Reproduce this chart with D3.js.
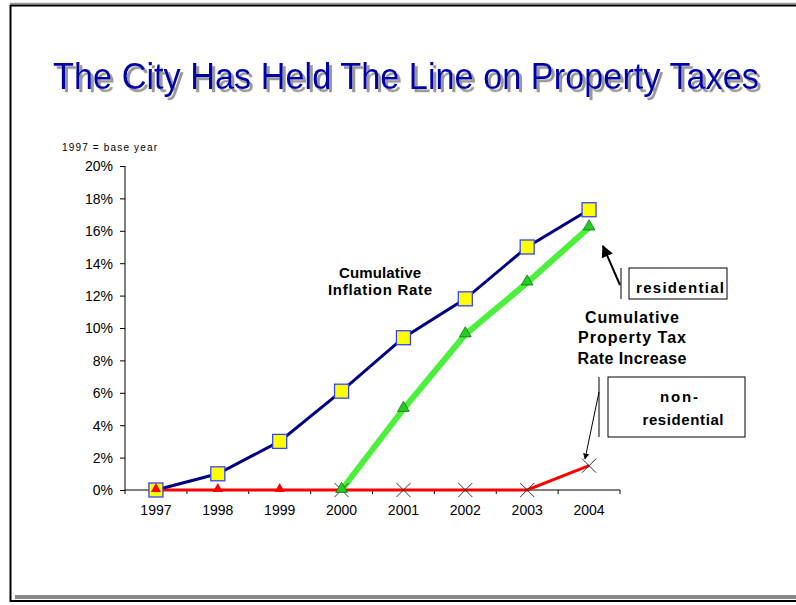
<!DOCTYPE html>
<html><head><meta charset="utf-8">
<script src="https://cdn.jsdelivr.net/npm/d3@7"></script>
<style>body{margin:0;background:#fff}svg{display:block}text{font-family:"Liberation Sans",Arial,sans-serif}</style>
</head><body>
<svg id="c" width="796" height="605"></svg>
<script>
const years = ["1997","1998","1999","2000","2001","2002","2003","2004"];
const inflation = [0, 1.0, 3.0, 6.1, 9.4, 11.8, 15.0, 17.3];
const residential = [null, null, null, 0, 5.0, 9.6, 12.8, 16.2];
const nonResidential = [0, 0, 0, 0, 0, 0, 0, 1.5];
const yTicks = [0, 2, 4, 6, 8, 10, 12, 14, 16, 18, 20];

const svg = d3.select("#c");
const defs = svg.append("defs");
const f = defs.append("filter").attr("id","sh").attr("filterUnits","userSpaceOnUse")
  .attr("x",-20).attr("y",-50).attr("width",760).attr("height",80);
f.append("feDropShadow").attr("dx",3).attr("dy",3).attr("stdDeviation",0.6).attr("flood-color","#999").attr("flood-opacity",1);

// frame
svg.append("line").attr("x1",10).attr("x2",796).attr("y1",3.5).attr("y2",3.5).attr("stroke","#999").attr("stroke-width",1.5);
svg.append("line").attr("x1",10).attr("x2",796).attr("y1",5.5).attr("y2",5.5).attr("stroke","#000").attr("stroke-width",2);
svg.append("line").attr("x1",10.5).attr("x2",10.5).attr("y1",5).attr("y2",602).attr("stroke","#000").attr("stroke-width",2);
svg.append("rect").attr("x",15).attr("y",595).attr("width",781).attr("height",4).attr("fill","#888");
svg.append("line").attr("x1",10).attr("x2",796).attr("y1",601).attr("y2",601).attr("stroke","#000").attr("stroke-width",2);

// title with shadow
const title = "The City Has Held The Line on Property Taxes";
svg.append("text").attr("x",0).attr("y",0).attr("font-size",35).attr("fill","#0000a8")
  .attr("transform","translate(53,89) scale(1,1.07)")
  .attr("filter","url(#sh)")
  .attr("textLength",706).attr("lengthAdjust","spacingAndGlyphs").text(title);

const x = d3.scaleBand().domain(years).range([125, 620]);
const y = d3.scaleLinear().domain([0, 20]).range([490, 166]);

// axes
const yAxis = d3.axisLeft(y).tickValues(yTicks).tickSize(5).tickFormat(d => d + "%");
const gy = svg.append("g").attr("transform","translate(125,0)").call(yAxis);
gy.selectAll("text").attr("font-size",14).attr("fill","#000").attr("x",-12).attr("dy","0.35em");
gy.select(".domain").attr("d","M0,166V490");
const xAxis = d3.axisBottom(x).tickSize(0).tickPadding(15);
const gx = svg.append("g").attr("transform","translate(0,490)").call(xAxis);
gx.selectAll("text").attr("font-size",14).attr("fill","#000");
gx.select(".domain").attr("d","M125,0H620");
gx.selectAll(".bt").data(years.concat(["end"])).enter().append("line")
  .attr("x1",(d,i)=>125+i*x.step()).attr("x2",(d,i)=>125+i*x.step())
  .attr("y1",0).attr("y2",4).attr("stroke","#000");
svg.selectAll(".domain,.tick line").attr("stroke","#000");

svg.append("text").attr("x",62).attr("y",151).attr("font-size",10).attr("fill","#000")
  .attr("textLength",95).attr("lengthAdjust","spacing").text("1997 = base year");

const cx = d => x(d) + x.bandwidth()/2;

const nrPts = years.map((d,i)=>[cx(d), y(nonResidential[i])]);
svg.append("path").attr("d", d3.line()(nrPts)).attr("fill","none").attr("stroke","#ff0000").attr("stroke-width",3);

const resPts = years.map((d,i)=>residential[i]==null?null:[cx(d), y(residential[i])]).filter(p=>p);
svg.append("path").attr("d", d3.line()(resPts)).attr("fill","none").attr("stroke","#4cf03c").attr("stroke-width",6);

const infPts = years.map((d,i)=>[cx(d), y(inflation[i])]);
svg.append("path").attr("d", d3.line()(infPts)).attr("fill","none").attr("stroke","#000080").attr("stroke-width",3);

const tri = d3.symbol().type(d3.symbolTriangle).size(45);
svg.selectAll(".sq").data(infPts).enter().append("rect")
  .attr("x",p=>p[0]-7).attr("y",p=>p[1]-7).attr("width",14).attr("height",14)
  .attr("fill","#ffff00").attr("stroke","#3344ff").attr("stroke-width",1.3);
svg.selectAll(".rt").data(nrPts.slice(0,3)).enter().append("path")
  .attr("d",tri).attr("transform",p=>`translate(${p[0]},${p[1]-1})`).attr("fill","#ff0000");
svg.selectAll(".xm").data(nrPts.slice(3)).enter().append("path")
  .attr("d",p=>`M${p[0]-7},${p[1]-7}L${p[0]+7},${p[1]+7}M${p[0]-7},${p[1]+7}L${p[0]+7},${p[1]-7}`)
  .attr("stroke","#333").attr("stroke-width",1);
svg.selectAll(".gt").data(resPts).enter().append("path")
  .attr("d",d3.symbol().type(d3.symbolTriangle).size(60)).attr("transform",p=>`translate(${p[0]},${p[1]-1})`)
  .attr("fill","#22cc22").attr("stroke","#117711").attr("stroke-width",0.8);

const bold = (xx,yy,t,fs,tl)=>{const e=svg.append("text").attr("x",xx).attr("y",yy).attr("text-anchor","middle")
  .attr("font-size",fs).attr("font-weight","bold").attr("fill","#000").text(t);
  if(tl) e.attr("textLength",tl).attr("lengthAdjust","spacing"); return e;};
bold(380,278,"Cumulative",15,82);
bold(380,295,"Inflation Rate",15,104);
bold(632,323,"Cumulative",16,94);
bold(632,343,"Property Tax",16,108);
bold(632,364,"Rate Increase",16,109);

defs.append("marker").attr("id","ah").attr("viewBox","0 0 10 10").attr("refX",9).attr("refY",5)
  .attr("markerWidth",6).attr("markerHeight",6).attr("orient","auto")
  .append("path").attr("d","M0,0L10,5L0,10z").attr("fill","#000");

svg.append("rect").attr("x",629).attr("y",268).attr("width",98).attr("height",31).attr("fill","#fff").attr("stroke","#000").attr("stroke-width",1);
svg.append("line").attr("x1",621).attr("x2",621).attr("y1",268).attr("y2",299).attr("stroke","#000");
bold(680,293,"residential",15,88);
svg.append("line").attr("x1",620).attr("y1",285).attr("x2",603).attr("y2",246).attr("stroke","#000").attr("stroke-width",2).attr("marker-end","url(#ah)");

svg.append("rect").attr("x",608).attr("y",377).attr("width",137).attr("height",60).attr("fill","#fff").attr("stroke","#000").attr("stroke-width",1);
svg.append("line").attr("x1",599).attr("x2",599).attr("y1",377).attr("y2",437).attr("stroke","#000");
bold(679,402,"non-",15,38);
bold(683,425,"residential",15,81);
svg.append("line").attr("x1",599).attr("y1",392).attr("x2",585).attr("y2",459).attr("stroke","#000").attr("stroke-width",1).attr("marker-end","url(#ah)");
</script>
</body></html>
